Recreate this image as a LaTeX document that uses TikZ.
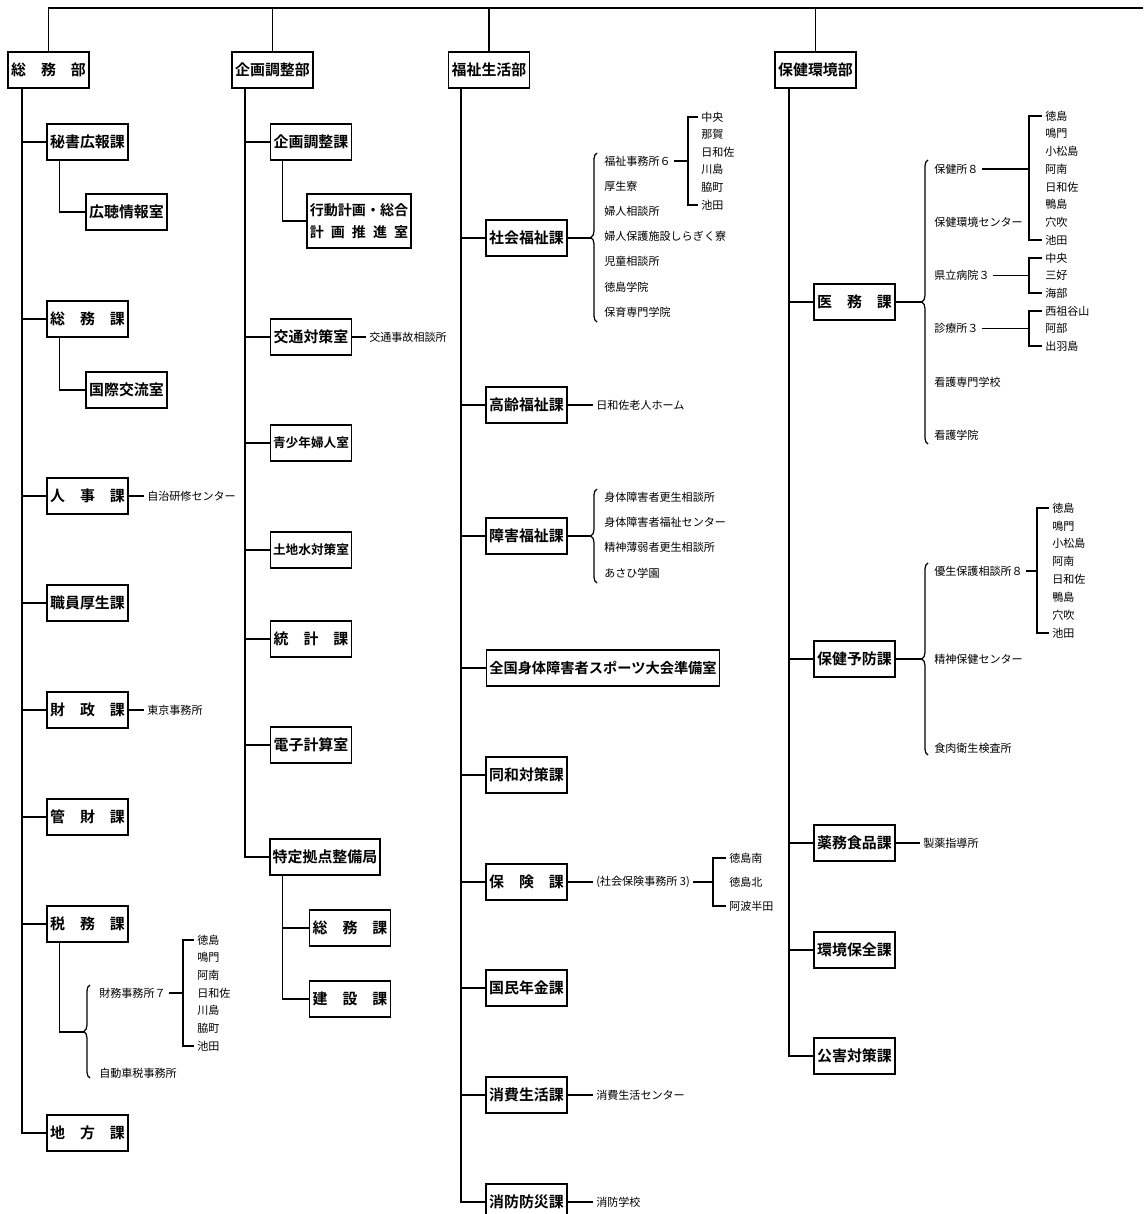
\documentclass[tikz,border=0pt]{standalone}
\usepackage{fontspec}
\newfontfamily\jp{Noto Sans CJK JP}
\newfontfamily\jpb{Noto Sans CJK JP Bold}
\usetikzlibrary{calc, decorations.pathreplacing}

\begin{document}
\begin{tikzpicture}[x=0.02cm, y=-0.02cm, line width=0.7pt,
    bu/.style={draw, line width=0.9pt, minimum width=1.62cm, minimum height=0.72cm,
        inner sep=1.5pt, font=\jpb\fontsize{8.5}{12.5}\selectfont},
    narrow/.style={font=\jpb\fontsize{7.2}{10}\selectfont},
    item/.style={anchor=west, inner sep=1.5pt, font=\jp\fontsize{6.3}{7}\selectfont},
    curly/.style={decorate, decoration={brace, amplitude=3.5pt}}]

    % Page frame
    \useasboundingbox (0,0) rectangle (1143,1214);

    % Top bus
    \coordinate (busL) at (48,8);
    \coordinate (busR) at (1143,8);
    \draw (busL) -- (busR);

    % Departments
    \node[bu] (sb) at (48.5,70) {総　務　部};
    \node[bu] (kc) at (272.5,70) {企画調整部};
    \node[bu] (fs) at (489,70) {福祉生活部};
    \node[bu] (hk) at (815.5,70) {保健環境部};
    \foreach \d in {sb,kc,fs,hk}
        \draw (\d.north) -- (\d.north |- busL);

    % ---------------- 総務部 ----------------
    \node[bu] (hisho) at (87.5,142) {秘書広報課};
    \node[bu] (kocho) at (126.5,212) {広聴情報室};
    \node[bu] (somu) at (87.5,319) {総　務　課};
    \node[bu] (kokusai) at (126.5,390) {国際交流室};
    \node[bu] (jinji) at (87.5,496) {人　事　課};
    \node[bu] (kosei) at (87.5,603) {職員厚生課};
    \node[bu] (zaisei) at (87.5,710) {財　政　課};
    \node[bu] (kanzai) at (87.5,817) {管　財　課};
    \node[bu] (zeimu) at (87.5,924) {税　務　課};
    \node[bu] (chiho) at (87.5,1133) {地　方　課};

    \coordinate (sb-foot) at (22,1133);
    \draw (sb.south -| sb-foot) -- (sb-foot) -- (chiho.west);
    \foreach \k in {hisho,somu,jinji,kosei,zaisei,kanzai,zeimu}
        \draw (\k.west) -- (\k.west -| sb-foot);
    \draw ($(hisho.south west)+(13,0)$) |- (kocho.west);
    \draw ($(somu.south west)+(13,0)$) |- (kokusai.west);

    \node[item] (jichi) at (144,496) {自治研修センター};
    \draw (jinji.east) -- (jichi.west);
    \node[item] (tokyo) at (144,710) {東京事務所};
    \draw (zaisei.east) -- (tokyo.west);

    % 税務課 offices
    \coordinate (zeimu-tip) at (84,1032);
    \draw[curly] (90,1078) -- (90,985);
    \draw ($(zeimu.south west)+(13,0)$) |- (zeimu-tip);
    \node[item] (zm-1) at (96,993) {財務事務所７};
    \node[item] (zm-2) at (96,1073) {自動車税事務所};
    \coordinate (zm-bar) at (183,993);
    \draw (zm-1.east) -- (zm-bar);
    \foreach \t [count=\i] in {徳島,鳴門,阿南,日和佐,川島,脇町,池田}
        \node[item] (zmA-\i) at (194,{940+(\i-1)*17.67}) {\t};
    \draw (zmA-1.west) -| (zm-bar) |- (zmA-7.west);

    % ---------------- 企画調整部 ----------------
    \node[bu] (kikaku) at (311,142) {企画調整課};
    \node[bu, minimum width=2.04cm, minimum height=1.08cm, align=center,
        font=\jpb\fontsize{8}{12.5}\selectfont] (kodo) at (359,221)
        {行動計画・総合\\\makebox[7em][s]{計\hfill 画\hfill 推\hfill 進\hfill 室}};
    \node[bu] (kotsu) at (311,337) {交通対策室};
    \node[bu, narrow] (seisho) at (311,443) {青少年婦人室};
    \node[bu, narrow] (tochi) at (311,550) {土地水対策室};
    \node[bu] (tokei) at (311,639) {統　計　課};
    \node[bu] (denshi) at (311,745) {電子計算室};
    \node[bu] (tokutei) at (325,857) {特定拠点整備局};
    \node[bu] (tk-somu) at (350,928) {総　務　課};
    \node[bu] (tk-ken) at (350,999) {建　設　課};

    \coordinate (kc-foot) at (245,857);
    \draw (kc.south -| kc-foot) -- (kc-foot) -- (tokutei.west);
    \foreach \k in {kikaku,kotsu,seisho,tochi,tokei,denshi}
        \draw (\k.west) -- (\k.west -| kc-foot);
    \draw ($(kikaku.south west)+(13,0)$) |- (kodo.west);
    \draw ($(tokutei.south west)+(13,0)$) |- (tk-ken.west);
    \draw (tk-somu.west) -| ($(tokutei.south west)+(13,0)$);

    \node[item] (jiko) at (366,337) {交通事故相談所};
    \draw (kotsu.east) -- (jiko.west);

    % ---------------- 福祉生活部 ----------------
    \node[bu] (shakai) at (526.5,238) {社会福祉課};
    \node[bu] (korei) at (526.5,405) {高齢福祉課};
    \node[bu] (shogai) at (526.5,536) {障害福祉課};
    \node[bu, font=\jpb\fontsize{8.1}{10}\selectfont] (zenkoku) at (603,668) {全国身体障害者スポーツ大会準備室};
    \node[bu] (dowa) at (526.5,775) {同和対策課};
    \node[bu] (hoken) at (526.5,882) {保　険　課};
    \node[bu] (kokumin) at (526.5,988) {国民年金課};
    \node[bu] (shohi) at (526.5,1095) {消費生活課};
    \node[bu] (shobo) at (526.5,1202) {消防防災課};

    \coordinate (fs-foot) at (461,1202);
    \draw (fs.south -| fs-foot) -- (fs-foot) -- (shobo.west);
    \foreach \k in {shakai,korei,shogai,zenkoku,dowa,hoken,kokumin,shohi}
        \draw (\k.west) -- (\k.west -| fs-foot);

    % 社会福祉課 offices
    \coordinate (shakai-tip) at (591,238);
    \draw[curly] (597,322) -- (597,153);
    \draw (shakai.east) -- (shakai-tip);
    \foreach \t [count=\i] in {福祉事務所６,厚生寮,婦人相談所,婦人保護施設しらぎく寮,児童相談所,徳島学院,保育専門学院}
        \node[item] (sk-\i) at (601,{161+(\i-1)*25.17}) {\t};
    \coordinate (fj-bar) at (688,161);
    \draw (sk-1.east) -- (fj-bar);
    \foreach \t [count=\i] in {中央,那賀,日和佐,川島,脇町,池田}
        \node[item] (fjA-\i) at (698,{117+(\i-1)*17.6}) {\t};
    \draw (fjA-1.west) -| (fj-bar) |- (fjA-6.west);

    \node[item] (rojin) at (593,405) {日和佐老人ホーム};
    \draw (korei.east) -- (rojin.west);

    % 障害福祉課 offices
    \coordinate (shogai-tip) at (591,536);
    \draw[curly] (597,583) -- (597,489);
    \draw (shogai.east) -- (shogai-tip);
    \foreach \t [count=\i] in {身体障害者更生相談所,身体障害者福祉センター,精神薄弱者更生相談所,あさひ学園}
        \node[item] (sg-\i) at (601,{497+(\i-1)*25.3}) {\t};

    % 保険課 offices
    \node[item] (shaho) at (593,882) {(社会保険事務所 3)};
    \draw (hoken.east) -- (shaho.west);
    \coordinate (sh-bar) at (713,882);
    \draw (shaho.east) -- (sh-bar);
    \foreach \t [count=\i] in {徳島南,徳島北,阿波半田}
        \node[item] (shA-\i) at (726,{858+(\i-1)*24}) {\t};
    \draw (shA-1.west) -| (sh-bar) |- (shA-3.west);

    \node[item] (center) at (593,1095) {消費生活センター};
    \draw (shohi.east) -- (center.west);
    \node[item] (gakko) at (593,1202) {消防学校};
    \draw (shobo.east) -- (gakko.west);

    % ---------------- 保健環境部 ----------------
    \node[bu] (imu) at (854.5,302) {医　務　課};
    \node[bu] (yobo) at (854.5,659) {保健予防課};
    \node[bu] (yakumu) at (854.5,843) {薬務食品課};
    \node[bu] (kankyo) at (854.5,950) {環境保全課};
    \node[bu] (kogai) at (854.5,1056) {公害対策課};

    \coordinate (hk-foot) at (789,1056);
    \draw (hk.south -| hk-foot) -- (hk-foot) -- (kogai.west);
    \foreach \k in {imu,yobo,yakumu,kankyo}
        \draw (\k.west) -- (\k.west -| hk-foot);

    % 医務課 offices
    \coordinate (imu-tip) at (922,302);
    \draw[curly] (928,444) -- (928,160);
    \draw (imu.east) -- (imu-tip);
    \foreach \t [count=\i] in {保健所８,保健環境センター,県立病院３,診療所３,看護専門学校,看護学院}
        \node[item] (im-\i) at (931,{169+(\i-1)*53.2}) {\t};

    \coordinate (hj-bar) at (1029,169);
    \draw (im-1.east) -- (hj-bar);
    \foreach \t [count=\i] in {徳島,鳴門,小松島,阿南,日和佐,鴨島,穴吹,池田}
        \node[item] (hjA-\i) at (1042,{116+(\i-1)*17.71}) {\t};
    \draw (hjA-1.west) -| (hj-bar) |- (hjA-8.west);

    \coordinate (kb-bar) at (1029,275.4);
    \draw (im-3.east) -- (kb-bar);
    \foreach \t [count=\i] in {中央,三好,海部}
        \node[item] (kbA-\i) at (1042,{258+(\i-1)*17.5}) {\t};
    \draw (kbA-1.west) -| (kb-bar) |- (kbA-3.west);

    \coordinate (sr-bar) at (1029,328.6);
    \draw (im-4.east) -- (sr-bar);
    \foreach \t [count=\i] in {西祖谷山,阿部,出羽島}
        \node[item] (srA-\i) at (1042,{311+(\i-1)*17.5}) {\t};
    \draw (srA-1.west) -| (sr-bar) |- (srA-3.west);

    % 保健予防課 offices
    \coordinate (yobo-tip) at (922,659);
    \draw[curly] (928,755) -- (928,563);
    \draw (yobo.east) -- (yobo-tip);
    \foreach \t [count=\i] in {優生保護相談所８,精神保健センター,食肉衛生検査所}
        \node[item] (yb-\i) at (931,{571+(\i-1)*88.5}) {\t};
    \coordinate (ys-bar) at (1037,571);
    \draw (yb-1.east) -- (ys-bar);
    \foreach \t [count=\i] in {徳島,鳴門,小松島,阿南,日和佐,鴨島,穴吹,池田}
        \node[item] (ysA-\i) at (1049,{508+(\i-1)*17.86}) {\t};
    \draw (ysA-1.west) -| (ys-bar) |- (ysA-8.west);

    \node[item] (seiyaku) at (920,843) {製薬指導所};
    \draw (yakumu.east) -- (seiyaku.west);

\end{tikzpicture}
\end{document}
